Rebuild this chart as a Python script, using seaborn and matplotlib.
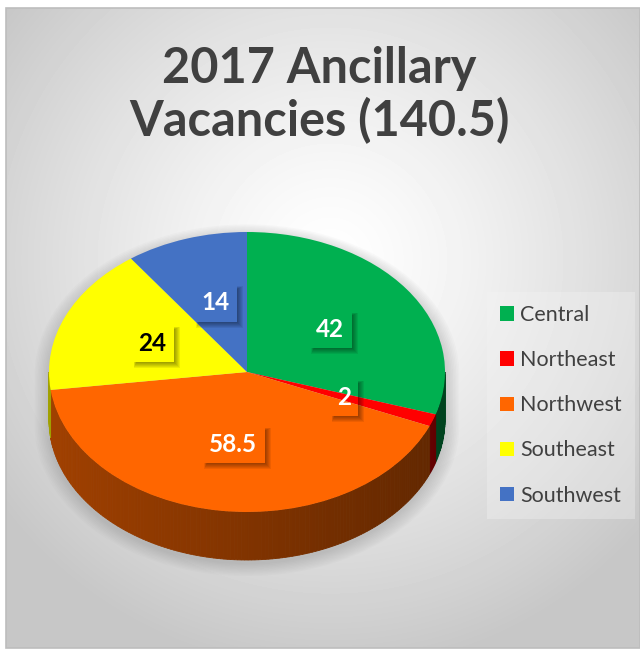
import numpy as np
import matplotlib
matplotlib.use("Agg")
import matplotlib.pyplot as plt
from matplotlib.patches import Polygon, Rectangle, PathPatch
from matplotlib.path import Path
from matplotlib.transforms import IdentityTransform
from matplotlib.colors import to_rgb
import seaborn as sns

regions = ["Central", "Northeast", "Northwest", "Southeast", "Southwest"]
vacancies = [42, 2, 58.5, 24, 14]
slice_colors = ["#00b050", "#ff0000", "#ff6600", "#ffff00", "#4472c4"]
label_colors = ["white", "white", "white", "black", "white"]
title = "2017 Ancillary\nVacancies (140.5)"

sns.set_theme(style="white")
plt.rcParams["font.family"] = ["Lato", "DejaVu Sans"]

W, H = 640, 651
fig = plt.figure(figsize=(W / 100, H / 100), dpi=100)

# background: radial grey gradient inside a thin frame
bg = fig.add_axes([0, 0, 1, 1])
bg.set_xlim(0, W)
bg.set_ylim(H, 0)
bg.axis("off")
yy, xx = np.mgrid[8:648, 6:640]
r = np.hypot(xx - 330, yy - 260) / 410
shade = 1 - 0.22 * np.clip(r, 0, 1) ** 1.3
bg.imshow(shade, cmap="gray", vmin=0, vmax=1, extent=(6, 640, 648, 8),
          interpolation="bilinear", aspect="auto")
bg.add_patch(Rectangle((6, 8), 634, 640, fill=False, ec="#bdbdbd", lw=1.2))

# pie axes, squashed vertically to fake the 3d tilt
cx, cy, rx, ry, depth = 247, 372, 198, 140, 48
d = depth / ry
xl = (-1.15, 1.15)
yl = (-1 - d - 0.25, 1.1)
left, right = cx + xl[0] * rx, cx + xl[1] * rx
top, bottom = cy - yl[1] * ry, cy - yl[0] * ry
ax = fig.add_axes([left / W, 1 - bottom / H, (right - left) / W, (bottom - top) / H])

wedges, _, autotexts = ax.pie(
    vacancies, colors=slice_colors, startangle=90, counterclock=False,
    autopct="%1.0f", pctdistance=0.52, wedgeprops=dict(linewidth=0, zorder=3))
ax.set_aspect("auto")
ax.set_xlim(xl)
ax.set_ylim(yl)
ax.axis("off")

# soft shadow around the silhouette
t_top = np.linspace(0, np.pi, 100)
t_bot = np.linspace(np.pi, 2 * np.pi, 100)
sil_x = np.concatenate([np.cos(t_top), np.cos(t_bot)])
sil_y = np.concatenate([np.sin(t_top), np.sin(t_bot) - d])
for k in range(10):
    s = 1.0 + 0.008 * k
    ax.add_patch(Polygon(np.column_stack([sil_x * s, (sil_y + d / 2) * s - d / 2 - 0.03]),
                         closed=True, fc="#808080", ec="none", alpha=0.035,
                         zorder=1, clip_on=False))

# side walls of the front half
for w, col in zip(wedges, slice_colors):
    a1, a2 = w.theta1, w.theta2
    base = np.array(to_rgb(col))
    for k in (-1, 0, 1):
        lo, hi = max(a1, -180 + 360 * k), min(a2, 360 * k)
        if lo >= hi:
            continue
        edges = np.linspace(lo, hi, max(2, int((hi - lo) / 1.0) + 2))
        for e1, e2 in zip(edges[:-1], edges[1:]):
            th = np.radians([e1, e2])
            xs = np.cos(th)
            ys = np.sin(th)
            f = 0.63 - 0.25 * (np.cos(np.radians((e1 + e2) / 2)) + 1) / 2
            c = base * f
            ax.add_patch(Polygon([[xs[0], ys[0]], [xs[1], ys[1]],
                                  [xs[1], ys[1] - d], [xs[0], ys[0] - d]],
                                 closed=True, fc=c, ec=c, lw=0.6, zorder=2))

# data labels: transparent boxes with a soft drop shadow
for t, v, tc in zip(autotexts, vacancies, label_colors):
    t.set_text(f"{v:g}")
    t.set_fontsize(17.5)
    t.set_fontweight("bold")
    t.set_color(tc)
    t.set_zorder(5)
    t.set_bbox(dict(boxstyle="square,pad=0.32", fc="none", ec="none"))

fig.legend(wedges, regions, loc="upper left", bbox_to_anchor=(487 / W, 1 - 292 / H),
           fontsize=15.5, labelspacing=1.17, handlelength=0.65, handleheight=0.65,
           handletextpad=0.3, frameon=True, facecolor="#f4f4f4", edgecolor="none",
           framealpha=0.35, fancybox=False, borderpad=0.6, borderaxespad=0,
           labelcolor="#404040")

fig.text(319 / W, 1 - 46 / H, title, ha="center", va="top", fontsize=35,
         fontweight="bold", color="#404040", linespacing=1.16)


def ring(x0, y0, x1, y1, a0, b0, a1, b1):
    # outer rect minus the part of the label box inside it
    a0, b0 = max(a0, x0), max(b0, y0)
    a1, b1 = min(a1, x1), min(b1, y1)
    outer = [(x0, y0), (x1, y0), (x1, y1), (x0, y1), (x0, y0)]
    inner = [(a0, b0), (a0, b1), (a1, b1), (a1, b0), (a0, b0)]
    codes = [Path.MOVETO] + [Path.LINETO] * 3 + [Path.CLOSEPOLY]
    return Path(outer + inner, codes + codes)


fig.canvas.draw()
renderer = fig.canvas.get_renderer()
for t in autotexts:
    bb = t.get_bbox_patch().get_window_extent(renderer)
    for g in range(1, 7):
        sh = ring(bb.x0 + 6 - g * 0.5, bb.y0 - g, bb.x1 + g, bb.y1 - 6 + g * 0.5,
                  bb.x0, bb.y0, bb.x1, bb.y1)
        ax.add_patch(PathPatch(sh, fc="black", ec="none", alpha=0.07,
                               transform=IdentityTransform(), zorder=4, clip_on=False))

fig.savefig("out.png", dpi=100)
